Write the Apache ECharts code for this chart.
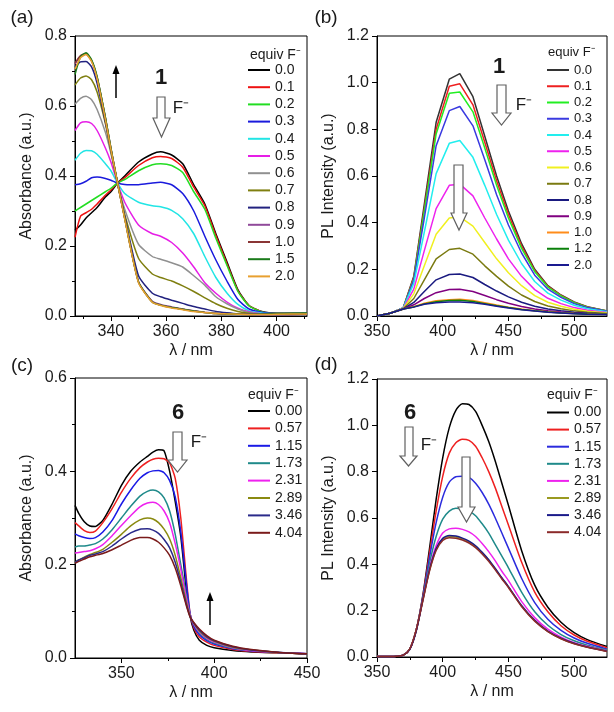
<!DOCTYPE html>
<html><head><meta charset="utf-8">
<script src="https://cdn.jsdelivr.net/npm/echarts@6/dist/echarts.min.js"></script>
<style>html,body{margin:0;padding:0;background:#fff}#c{width:614px;height:712px}</style>
</head><body><div id="c"></div>
<script>
// ---------- Panel (a): absorbance of 1 ----------
const aX = [327,329,331,333,335,338,340,342.4,345,350,355,358,362,366,370,374,378,382,386,390,395,400,411];
const aNames = ['0.0','0.1','0.2','0.3','0.4','0.5','0.6','0.7','0.8','0.9','1.0','1.5','2.0'];
const aColors = ['#000000','#ee1111','#22dd22','#1a1adc','#22e5e5','#e61ee6','#909090','#7f7f10','#22227f','#904a9a','#8a3535','#1a7a1a','#e8a030'];
const a00 = [.245,.26,.28,.295,.31,.34,.355,.38,.40,.44,.463,.469,.46,.435,.375,.32,.235,.155,.075,.03,.012,.008,.008];
const a01 = [.225,.285,.295,.305,.32,.345,.36,.38,.395,.43,.452,.456,.45,.425,.368,.315,.23,.15,.072,.03,.011,.008,.008];
const a02 = [.30,.31,.32,.33,.34,.355,.365,.38,.39,.415,.432,.435,.43,.41,.355,.305,.222,.145,.07,.029,.011,.008,.008];
const a03 = [.375,.378,.385,.395,.397,.393,.388,.38,.376,.375,.38,.382,.375,.35,.30,.228,.16,.10,.047,.02,.01,.007,.007];
const a04 = [.445,.465,.473,.472,.462,.435,.415,.38,.35,.325,.315,.312,.302,.278,.235,.17,.11,.066,.033,.015,.008,.006,.006];
const a05 = [.53,.552,.555,.55,.53,.48,.44,.38,.325,.26,.235,.228,.21,.18,.14,.095,.065,.04,.022,.012,.006,.005,.005];
const a06 = [.605,.622,.628,.618,.59,.525,.465,.38,.305,.205,.17,.162,.152,.14,.115,.088,.055,.035,.02,.01,.006,.005,.005];
const a07 = [.66,.68,.686,.675,.64,.55,.47,.38,.29,.165,.12,.11,.1,.086,.07,.052,.035,.022,.013,.008,.005,.005,.005];
const a08 = [.712,.726,.727,.712,.665,.555,.475,.38,.285,.115,.065,.055,.045,.036,.027,.02,.013,.009,.006,.005,.005,.005,.005];
const a09 = [.72,.742,.748,.728,.68,.565,.478,.38,.28,.098,.042,.033,.026,.02,.015,.011,.008,.006,.005,.004,.004,.004,.005];
const a10 = [.722,.744,.75,.73,.682,.567,.479,.38,.279,.097,.04,.031,.024,.019,.014,.01,.007,.006,.005,.004,.004,.004,.006];
const a15 = [.69,.74,.752,.732,.684,.568,.48,.38,.279,.097,.04,.031,.024,.019,.014,.01,.007,.006,.005,.004,.005,.006,.008];
const a20 = [.705,.738,.747,.727,.678,.562,.476,.38,.277,.095,.039,.03,.023,.018,.013,.01,.007,.006,.005,.004,.004,.005,.006];
const aData = [a00,a01,a02,a03,a04,a05,a06,a07,a08,a09,a10,a15,a20];

// ---------- Panel (b): PL of 1 ----------
const bX = [350,360,370,378,386,395,405,413,423,432,441,450,460,470,480,490,500,510,525];
const bNames = ['0.0','0.1','0.2','0.3','0.4','0.5','0.6','0.7','0.8','0.9','1.0','1.2','2.0'];
const bColors = ['#333333','#ee2020','#22ee22','#3a3ae0','#22eeee','#ee22ee','#f0f020','#7a7a10','#1a1a80','#800080','#ff8c1a','#0a800a','#1a1a90'];
const b00 = [0,.012,.035,.17,.48,.83,1.015,1.039,.94,.77,.60,.45,.31,.20,.13,.09,.06,.04,.022];
const b01 = [0,.012,.035,.165,.46,.80,.985,.995,.905,.745,.58,.435,.30,.195,.127,.088,.058,.039,.021];
const b02 = [0,.012,.035,.16,.45,.78,.955,.96,.875,.72,.56,.42,.29,.19,.124,.086,.057,.038,.021];
const b03 = [0,.012,.034,.155,.42,.73,.88,.898,.815,.67,.52,.39,.27,.175,.115,.08,.053,.036,.02];
const b04 = [0,.012,.034,.14,.36,.61,.74,.752,.68,.56,.435,.325,.225,.148,.098,.068,.046,.031,.018];
const b05 = [0,.012,.033,.115,.28,.46,.56,.565,.515,.42,.33,.245,.17,.113,.076,.053,.036,.025,.015];
const b06 = [0,.012,.032,.095,.215,.35,.42,.425,.385,.315,.245,.185,.13,.087,.059,.042,.029,.02,.013];
const b07 = [0,.012,.031,.075,.155,.245,.285,.29,.265,.215,.17,.128,.09,.062,.043,.031,.022,.016,.011];
const b08 = [0,.012,.03,.058,.105,.155,.178,.18,.165,.135,.107,.082,.059,.042,.03,.022,.016,.012,.009];
const b09 = [0,.012,.03,.048,.075,.10,.114,.115,.105,.088,.07,.055,.041,.03,.022,.017,.013,.01,.008];
const b10 = [0,.012,.03,.04,.055,.065,.07,.072,.066,.057,.047,.038,.03,.023,.018,.014,.011,.009,.007];
const b12 = [0,.012,.03,.039,.052,.061,.066,.067,.062,.053,.044,.036,.028,.022,.017,.013,.011,.009,.007];
const b20 = [0,.012,.03,.038,.05,.057,.06,.06,.057,.05,.042,.034,.027,.021,.016,.013,.01,.008,.006];
const bData = [b00,b01,b02,b03,b04,b05,b06,b07,b08,b09,b10,b12,b20];

// ---------- Panel (c): absorbance of 6 ----------
const cX = [325,327,330,333,336,340,345,350,355,360,364,367,370,373,376,379,382,385,387,389,392,396,400,410,420,435,450];
const cNames = ['0.00','0.57','1.15','1.73','2.31','2.89','3.46','4.04'];
const cColors = ['#000000','#ee2020','#1a1ae6','#1f8a8a','#ee22ee','#8a8a10','#2a2a8a','#7a1a1a'];
const c000 = [.327,.31,.292,.283,.282,.295,.33,.37,.40,.42,.432,.441,.446,.444,.40,.335,.26,.145,.09,.06,.038,.027,.022,.016,.013,.011,.009];
const c057 = [.29,.283,.273,.269,.272,.29,.32,.355,.385,.408,.42,.426,.428,.427,.418,.385,.30,.17,.095,.065,.045,.034,.027,.018,.014,.011,.009];
const c115 = [.266,.262,.258,.256,.258,.27,.295,.33,.36,.385,.397,.401,.402,.397,.38,.345,.27,.16,.095,.068,.05,.037,.03,.02,.015,.012,.009];
const c173 = [.238,.24,.24,.242,.245,.255,.275,.30,.325,.347,.357,.36,.356,.343,.315,.265,.20,.135,.093,.072,.054,.04,.032,.021,.016,.012,.009];
const c231 = [.225,.226,.228,.23,.234,.243,.262,.284,.305,.324,.332,.334,.329,.315,.29,.245,.19,.128,.092,.073,.056,.042,.034,.022,.016,.012,.009];
const c289 = [.205,.21,.216,.222,.226,.233,.248,.265,.283,.296,.30,.298,.29,.276,.255,.22,.172,.12,.09,.074,.058,.044,.036,.023,.017,.012,.009];
const c346 = [.205,.21,.215,.22,.223,.228,.24,.255,.268,.276,.277,.274,.267,.254,.236,.205,.162,.115,.089,.075,.06,.046,.037,.024,.017,.012,.009];
const c404 = [.203,.207,.212,.217,.22,.224,.232,.242,.252,.258,.258,.255,.248,.236,.22,.193,.155,.112,.088,.076,.062,.048,.038,.025,.018,.012,.009];
const cData = [c000,c057,c115,c173,c231,c289,c346,c404];

// ---------- Panel (d): PL of 6 ----------
const dX = [350,360,365,370,375,380,385,390,395,400,405,410,415,420,425,430,435,440,445,450,460,470,480,490,500,510,525];
const dNames = ['0.00','0.57','1.15','1.73','2.31','2.89','3.46','4.04'];
const dColors = ['#000000','#ee2020','#2b2bdd','#1f8a8a','#ee22ee','#9a9a20','#1a1a8a','#8b2a2a'];
const d000 = [.002,.002,.003,.008,.035,.12,.27,.47,.68,.86,.99,1.065,1.093,1.09,1.06,1.0,.93,.845,.75,.655,.46,.31,.215,.15,.105,.075,.045];
const d057 = [.002,.002,.003,.008,.035,.12,.265,.45,.63,.78,.88,.925,.94,.935,.91,.86,.80,.73,.65,.57,.41,.28,.195,.135,.095,.068,.04];
const d115 = [.002,.002,.003,.008,.035,.12,.26,.43,.58,.69,.755,.778,.78,.775,.75,.71,.66,.60,.535,.47,.34,.235,.163,.115,.082,.059,.034];
const d173 = [.002,.002,.003,.008,.035,.12,.255,.405,.52,.595,.63,.642,.64,.63,.61,.575,.535,.485,.435,.385,.28,.195,.137,.097,.07,.051,.03];
const d231 = [.002,.002,.003,.008,.035,.12,.25,.385,.48,.535,.553,.556,.551,.54,.52,.49,.455,.415,.37,.33,.24,.17,.12,.086,.062,.046,.027];
const d289 = [.002,.002,.003,.008,.035,.12,.248,.375,.465,.508,.52,.518,.51,.497,.477,.45,.418,.38,.34,.302,.22,.157,.111,.08,.058,.043,.025];
const d346 = [.002,.002,.003,.008,.033,.115,.25,.378,.468,.512,.525,.522,.513,.5,.48,.452,.42,.382,.342,.304,.222,.158,.112,.081,.059,.043,.025];
const d404 = [.002,.002,.003,.008,.035,.12,.246,.372,.46,.503,.515,.513,.505,.492,.472,.445,.413,.376,.337,.3,.218,.155,.11,.079,.057,.042,.024];
const dData = [d000,d057,d115,d173,d231,d289,d346,d404];

// ---------- tick labels ----------
const aTicks = [340,360,380,400], aMinor = [330,350,370,390,410];
const bTicks = [350,400,450,500], bMinor = [375,425,475];
const cTicks = [350,400,450], cMinor = [375,425];
const dTicks = [350,400,450,500], dMinor = [375,425,475];

const FONT = 'Liberation Sans, Arial, Helvetica, sans-serif';
const TXT = '#1a1a1a';

const grids = [
  {left:75, top:36, width:232, height:280},
  {left:377, top:36, width:230, height:280},
  {left:75, top:378, width:232, height:280},
  {left:377, top:379, width:230, height:278}
].map(g => Object.assign(g, {show:true, borderColor:'#000', borderWidth:1, backgroundColor:'transparent'}));

function xMain(gi, min, max, ticks){
  return {type:'value', gridIndex:gi, min, max, position:'bottom',
    name:'\u03bb / nm', nameLocation:'middle', nameGap:27,
    nameTextStyle:{fontFamily:FONT, fontSize:16, color:TXT},
    axisLine:{show:true, onZero:false, lineStyle:{color:'#000', width:1}},
    axisTick:{show:true, length:5, customValues:ticks, lineStyle:{color:'#000'}},
    axisLabel:{show:true, customValues:ticks, margin:8, fontFamily:FONT, fontSize:16, color:TXT},
    splitLine:{show:false}};
}
function xMinor(gi, min, max, ticks){
  return {type:'value', gridIndex:gi, min, max, position:'bottom',
    axisLine:{show:false, onZero:false},
    axisTick:{show:true, length:3, customValues:ticks, lineStyle:{color:'#000'}},
    axisLabel:{show:false}, splitLine:{show:false}};
}
function yAx(gi, max, name, minor){
  return {type:'value', gridIndex:gi, min:0, max, interval:0.2,
    name, nameLocation:'middle', nameGap:40,
    nameTextStyle:{fontFamily:FONT, fontSize:16, color:TXT},
    axisLine:{show:true, onZero:false, lineStyle:{color:'#000', width:1}},
    axisTick:{show:true, length:5, lineStyle:{color:'#000'}},
    minorTick:{show:minor, splitNumber:2, length:3, lineStyle:{color:'#000'}},
    axisLabel:{margin:8, fontFamily:FONT, fontSize:16, color:TXT, formatter:v => v.toFixed(1)},
    splitLine:{show:false}};
}

const series = [];
function addPanel(tag, gi, xs, names, colors, datas, smooth){
  names.forEach((n, i) => {
    series.push({type:'line', name:tag + '|' + n, xAxisIndex:gi, yAxisIndex:gi,
      data: xs.map((x, k) => [x, datas[i][k]]),
      symbol:'none', showSymbol:false, smooth: smooth,
      lineStyle:{color:colors[i], width:1.5}, itemStyle:{color:colors[i]},
      clip:true, silent:true});
  });
}
addPanel('a', 0, aX, aNames, aColors, aData, 0.2);
addPanel('b', 1, bX, bNames, bColors, bData, false);
addPanel('c', 2, cX, cNames, cColors, cData, 0.2);
addPanel('d', 3, dX, dNames, dColors, dData, 0.25);

function legend(tag, names, left, top, gap, fs){
  return {orient:'vertical', left, top, padding:0, icon:'rect', itemWidth:22, itemHeight:2, itemGap:gap,
    selectedMode:false, data: names.map(n => tag + '|' + n),
    formatter: s => s.split('|')[1],
    textStyle:{fontFamily:FONT, fontSize:fs, lineHeight:fs, height:fs, color:TXT}};
}

function txt(x, y, t, font, align){
  return {type:'text', x, y, z:100, silent:true,
    style:{text:t, font, fill:TXT, align:align||'center', verticalAlign:'middle',
      textAlign:align||'center', textVerticalAlign:'middle'}};
}
function hollow(xl, xr, hl, hr, top, base, tip){
  const cx = (hl + hr) / 2;
  return {type:'polygon', z:90, silent:true,
    shape:{points:[[xl,top],[xr,top],[xr,base],[hr,base],[cx,tip],[hl,base],[xl,base]]},
    style:{fill:'#ffffff', stroke:'#606060', lineWidth:1.2}};
}
function upArrow(x, y0, y1){
  return [
    {type:'line', z:90, silent:true, shape:{x1:x, y1:y0, x2:x, y2:y1+6}, style:{stroke:'#000', lineWidth:1.5}},
    {type:'polygon', z:90, silent:true, shape:{points:[[x,y1],[x-3.5,y1+9],[x+3.5,y1+9]]}, style:{fill:'#000'}}
  ];
}

const graphic = [
  txt(22, 18, '(a)', '19px ' + FONT),
  txt(326, 18, '(b)', '19px ' + FONT),
  txt(22, 366, '(c)', '19px ' + FONT),
  txt(326, 365, '(d)', '19px ' + FONT),
  txt(250, 55, 'equiv F\u207b', '14px ' + FONT, 'left'),
  txt(548, 52, 'equiv F\u207b', '13px ' + FONT, 'left'),
  txt(248, 395, 'equiv F\u207b', '14px ' + FONT, 'left'),
  txt(547, 395, 'equiv F\u207b', '14px ' + FONT, 'left'),
  txt(161, 78, '1', 'bold 22px ' + FONT),
  txt(499, 67, '1', 'bold 22px ' + FONT),
  txt(178, 413, '6', 'bold 22px ' + FONT),
  txt(410, 413, '6', 'bold 22px ' + FONT),
  txt(181, 108, 'F\u207b', '17px ' + FONT),
  txt(524, 105, 'F\u207b', '17px ' + FONT),
  txt(199, 442, 'F\u207b', '17px ' + FONT),
  txt(429, 445, 'F\u207b', '17px ' + FONT),
  hollow(157, 165, 153, 170, 97, 118, 137),
  hollow(497, 506, 492, 511, 85, 113, 125),
  hollow(454, 463, 451, 467, 165, 213, 230),
  hollow(173, 182, 168, 187, 432, 460, 472),
  hollow(405, 413, 400, 417, 427, 456, 466),
  hollow(462, 470, 458, 475, 457, 507, 522),
  ...upArrow(116, 98, 65),
  ...upArrow(210, 625, 592)
];

const option = {
  animation:false,
  backgroundColor:'#ffffff',
  grid: grids,
  xAxis: [
    xMain(0, 327, 411, aTicks), xMain(1, 350, 525, bTicks), xMain(2, 325, 450, cTicks), xMain(3, 350, 525, dTicks),
    xMinor(0, 327, 411, aMinor), xMinor(1, 350, 525, bMinor), xMinor(2, 325, 450, cMinor), xMinor(3, 350, 525, dMinor)
  ],
  yAxis: [
    yAx(0, 0.8, 'Absorbance (a.u.)', true),
    yAx(1, 1.2, 'PL Intensity (a.u.)', false),
    yAx(2, 0.6, 'Absorbance (a.u.)', true),
    yAx(3, 1.2, 'PL Intensity (a.u.)', false)
  ],
  legend: [
    legend('a', aNames, 248, 63, 3.2, 14),
    legend('b', bNames, 547, 63.5, 3.25, 13),
    legend('c', cNames, 248, 404, 3.4, 14),
    legend('d', dNames, 547, 405.5, 3.1, 14)
  ],
  series,
  graphic
};
const chart = echarts.init(document.getElementById('c'), null, {renderer:'canvas'});
chart.setOption(option);
</script></body></html>
